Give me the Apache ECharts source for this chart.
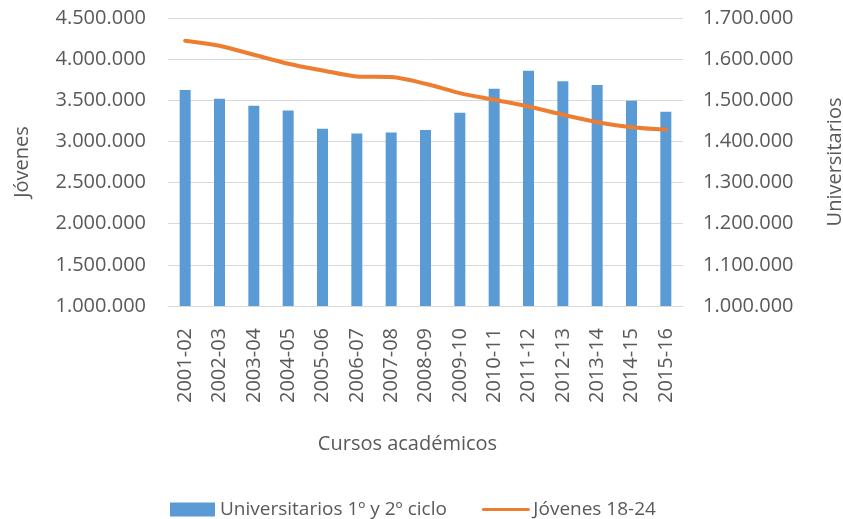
<!DOCTYPE html>
<html>
<head>
<meta charset="utf-8">
<script src="https://cdn.jsdelivr.net/npm/echarts@6/dist/echarts.min.js"></script>
<style>
  html, body { margin: 0; padding: 0; background: #fff; }
  #chart { width: 843px; height: 519px; }
</style>
</head>
<body>
<div id="chart"></div>
<script>
// cursos académicos (eje x)
const cursos = ['2001-02', '2002-03', '2003-04', '2004-05', '2005-06', '2006-07', '2007-08', '2008-09',
  '2009-10', '2010-11', '2011-12', '2012-13', '2013-14', '2014-15', '2015-16']
// universitarios 1º y 2º ciclo (eje derecho)
const universitarios = [1525000, 1504000, 1487000, 1475000, 1431000, 1419000, 1422000, 1428000,
  1470000, 1528000, 1572000, 1546000, 1537000, 1499000, 1472000]
// jóvenes 18-24 (eje izquierdo)
const jovenes = [4224000, 4163000, 4053000, 3944000, 3863000, 3790000, 3782000, 3701000,
  3587000, 3506000, 3425000, 3324000, 3234000, 3173000, 3145000]

const textColor = '#595959'
const font = 'Open Sans'

// separador de miles con punto
const fmt = (v) => String(v).replace(/\B(?=(\d{3})+(?!\d))/g, '.')

const chart = echarts.init(document.getElementById('chart'))

const option = {
  animation: false,
  textStyle: { fontFamily: font },
  grid: {
    left: 168,
    right: 160,
    top: 18,
    bottom: 213,
    outerBoundsMode: 'none'
  },
  legend: {
    top: 495,
    left: 165,
    itemGap: 35,
    itemWidth: 45,
    itemHeight: 14,
    textStyle: { color: textColor, fontSize: 19, fontFamily: font },
    data: [
      { name: 'Universitarios 1º y 2º ciclo', icon: 'rect' },
      { name: 'Jóvenes 18-24', lineStyle: { width: 3 }, itemStyle: { opacity: 0 } }
    ]
  },
  xAxis: {
    type: 'category',
    data: cursos,
    name: 'Cursos académicos',
    nameLocation: 'middle',
    nameGap: 128,
    nameTextStyle: { color: textColor, fontSize: 20, fontFamily: font, padding: [0, 36, 0, 0] },
    axisLine: { lineStyle: { color: '#D9D9D9', width: 1 } },
    axisTick: { show: false },
    axisLabel: {
      rotate: 90,
      margin: 22,
      color: textColor,
      fontSize: 20,
      fontFamily: font,
      interval: 0
    }
  },
  yAxis: [
    {
      type: 'value',
      min: 1000000,
      max: 4500000,
      interval: 500000,
      name: 'Jóvenes',
      nameLocation: 'middle',
      nameRotate: 90,
      nameGap: 136,
      nameTextStyle: { color: textColor, fontSize: 20, fontFamily: font },
      axisLine: { show: false },
      axisTick: { show: false },
      splitLine: { lineStyle: { color: '#D9D9D9', width: 1 } },
      axisLabel: { formatter: fmt, margin: 22, color: textColor, fontSize: 20, fontFamily: font }
    },
    {
      type: 'value',
      position: 'right',
      min: 1000000,
      max: 1700000,
      interval: 100000,
      name: 'Universitarios',
      nameLocation: 'middle',
      nameRotate: 90,
      nameGap: 142,
      nameTextStyle: { color: textColor, fontSize: 20, fontFamily: font },
      axisLine: { show: false },
      axisTick: { show: false },
      splitLine: { show: false },
      axisLabel: { formatter: fmt, margin: 20, color: textColor, fontSize: 20, fontFamily: font }
    }
  ],
  series: [
    {
      name: 'Universitarios 1º y 2º ciclo',
      type: 'bar',
      yAxisIndex: 1,
      data: universitarios,
      barWidth: 11,
      itemStyle: { color: '#5B9BD5' }
    },
    {
      name: 'Jóvenes 18-24',
      type: 'line',
      yAxisIndex: 0,
      data: jovenes,
      smooth: 0.3,
      symbol: 'none',
      lineStyle: { color: '#ED7D31', width: 4, cap: 'round' },
      itemStyle: { color: '#ED7D31' }
    }
  ]
}

chart.setOption(option)
</script>
</body>
</html>
